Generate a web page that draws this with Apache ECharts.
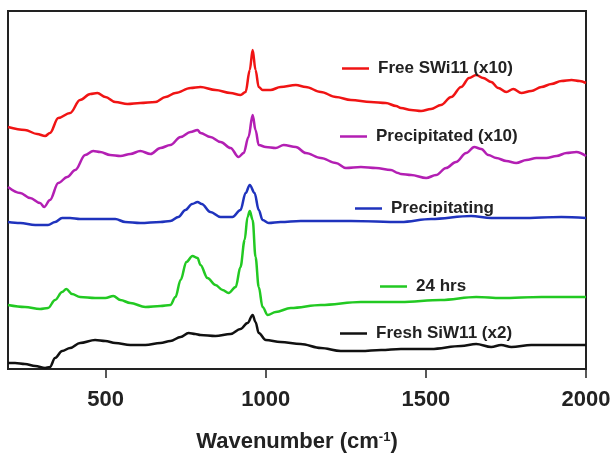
<!DOCTYPE html>
<html>
<head>
<meta charset="utf-8">
<script src="https://cdn.jsdelivr.net/npm/echarts@6/dist/echarts.min.js"></script>
<style>
html,body{margin:0;padding:0;background:#fff;}
#chart{width:615px;height:453px;}
</style>
</head>
<body>
<div id="chart"></div>
<script>
// Wavenumber ticks
const xTicks = [500, 1000, 1500, 2000];

// Series names
const names = ['Free SWi11 (x10)', 'Precipitated (x10)', 'Precipitating', '24 hrs', 'Fresh SiW11 (x2)'];

// Free SWi11 (x10) - red
const redX = [195,248,286,311,326,352,389,420,452,474,499,530,568,608,655,687,718,765,796,843,890,921,937,950,959,968,978,990,1015,1046,1094,1125,1172,1219,1266,1328,1375,1407,1422,1454,1485,1516,1547,1579,1610,1635,1657,1679,1704,1726,1751,1773,1798,1829,1861,1892,1923,1955,1980,2000];
const redY = [242,239,235,233,236,251,256,269,275,276,272,267,265,266,267,272,276,281,282,279,276,274,277,299,319,299,282,279,279,282,284,282,277,272,269,267,266,263,261,259,258,260,264,272,282,291,294,291,287,281,277,280,276,278,282,285,288,289,288,286];

// Precipitated (x10) - magenta
const magX = [195,233,264,295,308,326,352,380,405,436,461,483,514,546,577,608,640,671,702,734,765,787,796,827,859,890,915,931,946,959,968,978,1000,1031,1056,1094,1125,1172,1219,1250,1297,1344,1391,1413,1422,1454,1501,1532,1563,1594,1626,1651,1673,1695,1720,1751,1782,1814,1845,1876,1908,1939,1970,2000];
const magY = [182,176,171,166,162,169,186,192,199,214,218,217,214,213,215,218,215,221,224,232,237,239,236,232,227,221,212,216,232,254,239,224,222,221,224,222,216,211,206,201,202,201,199,196,195,194,191,194,201,207,216,222,220,214,211,208,206,209,211,211,213,216,217,213];

// Precipitating - blue
const bluX = [195,233,280,320,342,364,389,420,483,530,561,608,671,702,727,749,770,787,800,827,859,896,921,937,950,965,978,990,1009,1046,1109,1266,1422,1516,1641,1704,1798,1923,2000];
const bluY = [147,146,144,144,147,151,151,150,150,150,147,146,147,148,152,159,165,167,165,157,152,152,159,176,184,176,159,149,146,147,148,148,147,150,153,151,151,152,151];

// 24 hrs - green
const grnX = [195,248,295,320,342,364,377,395,420,467,499,524,546,577,624,671,702,718,734,752,771,787,796,818,843,865,884,906,921,934,943,950,959,968,978,990,1006,1031,1078,1172,1297,1422,1547,1657,1735,1861,2000];
const grnY = [64,62,60,61,69,77,80,75,72,71,71,73,69,66,62,63,64,72,89,107,113,111,104,91,84,79,76,82,102,129,152,158,149,112,82,62,54,57,61,64,67,67,69,72,71,72,72];

// Fresh SiW11 (x2) - black
const blkX = [195,217,248,280,311,326,342,364,389,420,467,499,530,577,624,671,702,734,759,780,796,843,890,921,943,959,968,978,1000,1046,1109,1172,1234,1297,1360,1422,1516,1610,1657,1704,1735,1767,1829,2000];
const blkY = [6,6,5,3,1,2,11,18,21,26,29,28,26,24,24,26,28,32,36,35,34,33,35,40,46,54,47,36,29,27,25,21,18,18,19,20,20,23,25,22,24,22,24,24];

function zip(xs, ys) {
  const n = Math.min(xs.length, ys.length);
  const out = [];
  for (let i = 0; i < n; i++) out.push([xs[i], ys[i]]);
  return out;
}

const colors = ['#f01414', '#b31fb3', '#1f33bd', '#22c922', '#111111'];
const seriesData = [zip(redX, redY), zip(magX, magY), zip(bluX, bluY), zip(grnX, grnY), zip(blkX, blkY)];
const legendPos = [[342, 60], [340, 128], [355, 200], [380, 278], [340, 325]];

const FONT = "'Liberation Sans', Arial, Helvetica, sans-serif";

const chart = echarts.init(document.getElementById('chart'), null, {renderer: 'canvas'});
const option = {
  animation: false,
  backgroundColor: '#fff',
  grid: {left: 8, right: 29, top: 11, bottom: 84, outerBoundsMode: 'none', containLabel: false, show: true, borderColor: '#222', borderWidth: 2, backgroundColor: 'transparent'},
  legend: names.map((n, i) => ({
    data: [{name: n, icon: 'rect'}],
    left: legendPos[i][0],
    top: legendPos[i][1],
    padding: 0,
    itemWidth: 27,
    itemHeight: 2.5,
    selectedMode: false,
    textStyle: {fontFamily: FONT, fontWeight: 'bold', fontSize: 17, color: '#222', padding: [0, 0, 0, 4]}
  })),
  xAxis: {
    type: 'value',
    min: 195,
    max: 2000,
    splitLine: {show: false},
    axisLine: {show: true, lineStyle: {color: '#222', width: 2}},
    axisTick: {show: true, length: 9, inside: false, customValues: xTicks, lineStyle: {color: '#222', width: 1.5}},
    axisLabel: {customValues: xTicks, margin: 20, formatter: v => String(v), fontFamily: FONT, fontWeight: 'bold', fontSize: 22, color: '#222'},
    name: '{a|Wavenumber (cm}{s|-1}{a|)}',
    nameLocation: 'middle',
    nameGap: 61,
    nameTextStyle: {
      rich: {
        a: {fontFamily: FONT, fontWeight: 'bold', fontSize: 22, color: '#222', lineHeight: 24},
        s: {fontFamily: FONT, fontWeight: 'bold', fontSize: 13, color: '#222', padding: [0, 0, 10, 0], lineHeight: 24}
      }
    }
  },
  yAxis: {
    type: 'value',
    min: 0,
    max: 358,
    axisLine: {show: true, lineStyle: {color: '#222', width: 2}},
    axisTick: {show: false},
    axisLabel: {show: false},
    splitLine: {show: false}
  },
  series: names.map((n, i) => ({
    name: n,
    type: 'line',
    data: seriesData[i],
    symbol: 'none',
    smooth: 0.35,
    smoothMonotone: 'x',
    color: colors[i],
    lineStyle: {color: colors[i], width: 2.5},
    clip: true
  }))
};
chart.setOption(option);
</script>
</body>
</html>
